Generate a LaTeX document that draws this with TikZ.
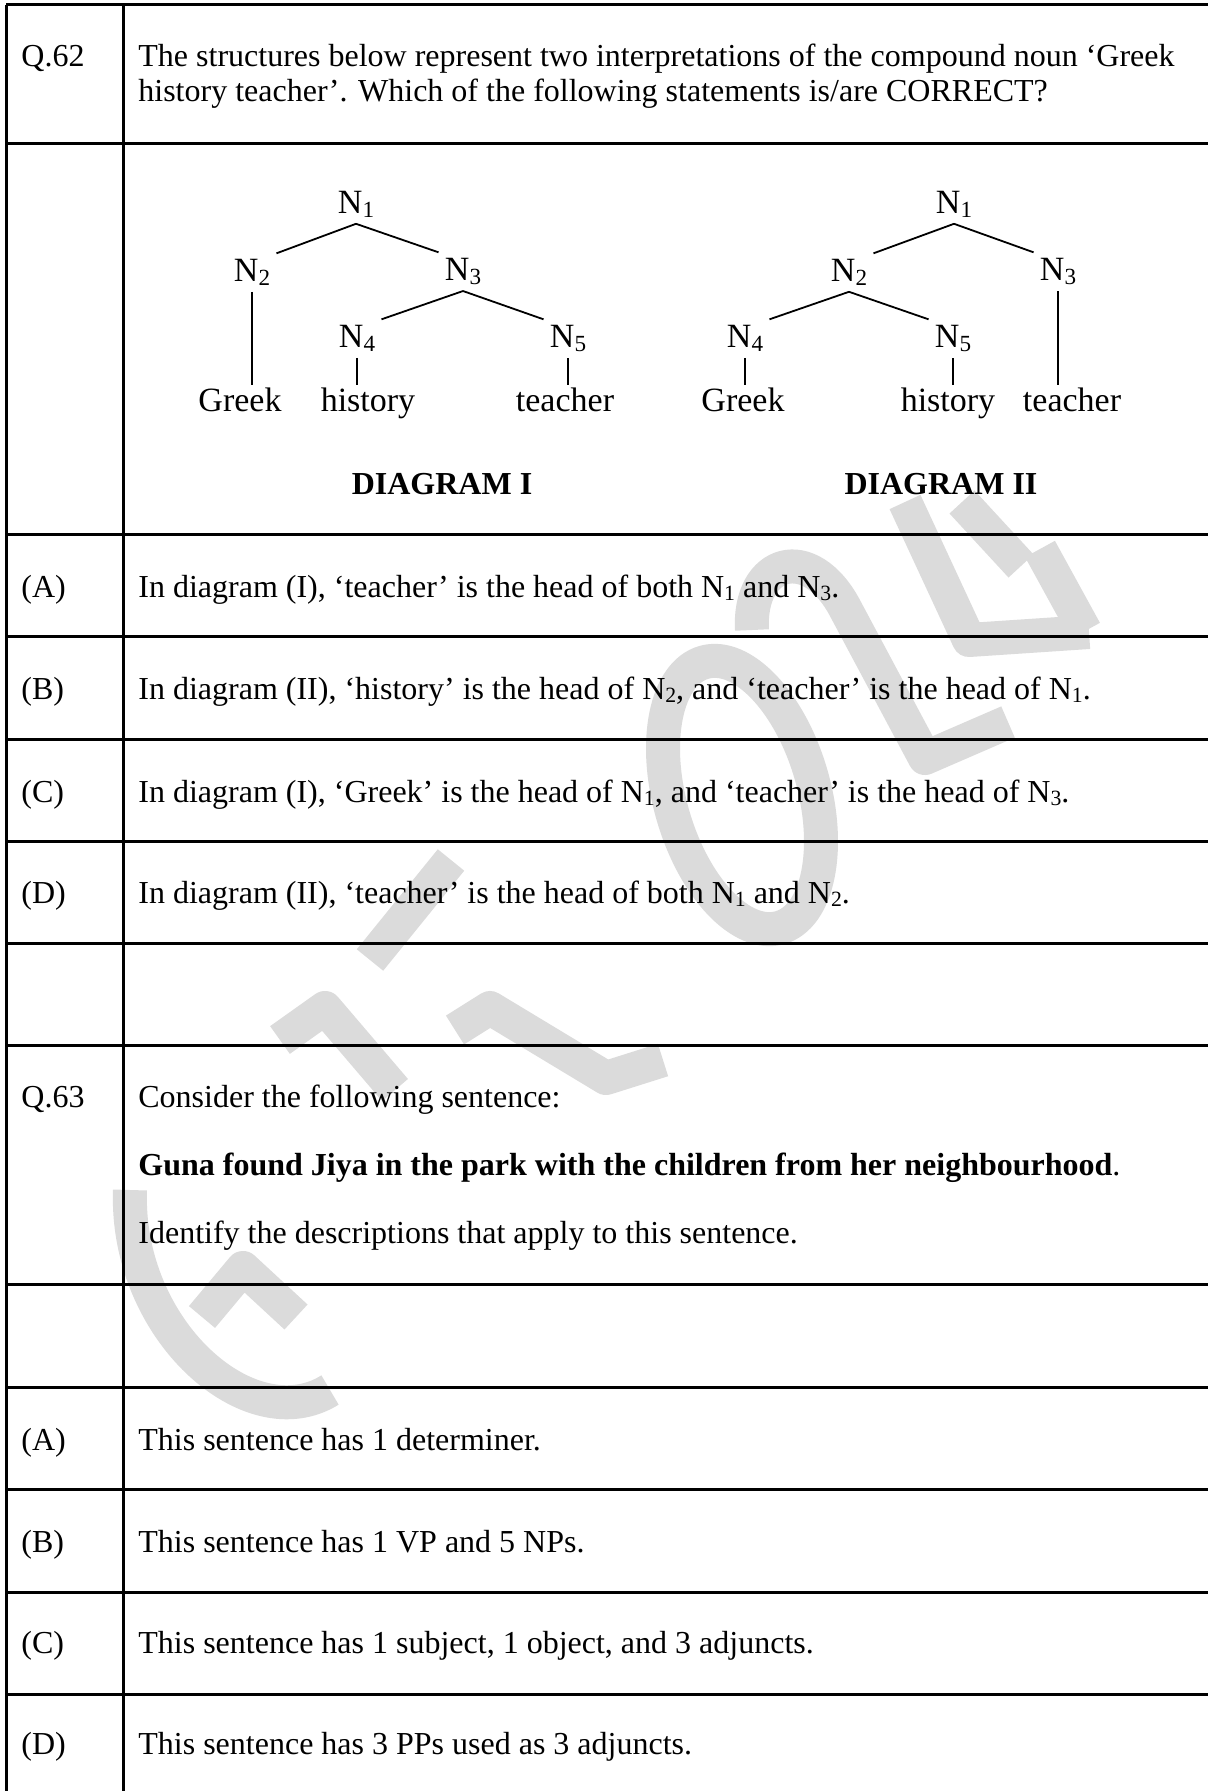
\documentclass[tikz,border=0pt]{standalone}
\usepackage{fontspec}
\setmainfont{Liberation Serif}
\usepackage{graphicx}
\usepackage{xcolor}
\usetikzlibrary{positioning, calc}
\definecolor{wmgray}{RGB}{219,219,219}
\newcommand{\nsub}[1]{\raisebox{-0.1em}{\scalebox{0.68}{#1}}}

\begin{document}
\begin{tikzpicture}[x=0.5pt, y=-0.5pt,
	txt/.style={anchor=base west, inner sep=0pt, font=\fontsize{16}{19}\selectfont},
	lbl/.style={anchor=base, inner sep=3pt, font=\fontsize{17}{20}\selectfont},
	word/.style={anchor=base, inner sep=1.5pt, font=\fontsize{17}{20}\selectfont},
	dgm/.style={anchor=base, inner sep=0pt, font=\fontsize{16}{19}\selectfont\bfseries},
	rule/.style={line width=1.5pt},
	branch/.style={line width=0.9pt}]

		\useasboundingbox (0,0) rectangle (1208,1791);
		\fill [white] (0,0) rectangle (1208,1791);

		\begin{scope}[wmgray, line width=17pt, line join=round]
			\draw (905,502) -- (969,640) -- (1089,632);
			\draw (962,502) -- (1021,566);
			\draw (1040,549) -- (1085,631);
			\draw (752,630) .. controls (748,560) and (810,540) .. (846,610) -- (925,758) -- (1008,722);
			\draw [rotate around={16:(742,795)}] (742,795) ellipse [x radius=72, y radius=138];
			\draw (451,860) -- (370,960);
			\draw (280,1040) -- (325,1008) -- (395,1090);
			\draw (455,1030) -- (490,1008) -- (606,1078) -- (663,1060);
			\draw (202,1317) -- (243,1268) -- (296,1317);
			\draw (130,1190) .. controls (125,1330) and (250,1440) .. (330,1390);
		\end{scope}

		\draw [rule] (6,5) -- (6,1791);
		\draw [rule] (123,5) -- (123,1791);
		\foreach \y in {5,144,534,636,739,841,943,1045,1284,1387,1489,1592,1694}
			\draw [rule] (6,\y) -- (1208,\y);

		\node [txt] (q62) at (21,67) {Q.62};
		\node [txt] (q62a) at (138,67) {The structures below represent two interpretations of the compound noun ‘Greek};
		\node [txt] (q62b) at (138,102) {history teacher’. Which of the following statements is/are CORRECT?};

		\node [lbl] (n1) at (356,214) {N\nsub{1}};
		\node [lbl] (n2) at (252,282) {N\nsub{2}};
		\node [lbl] (n3) at (463,281) {N\nsub{3}};
		\node [lbl] (n4) at (357,348) {N\nsub{4}};
		\node [lbl] (n5) at (568,348) {N\nsub{5}};
		\node [word] (w1) at (240,412) {Greek};
		\node [word] (w2) at (368,412) {history};
		\node [word] (w3) at (565,412) {teacher};
		\node [dgm] (d1) at (442,494) {DIAGRAM I};

		\draw [branch] (n1.south) -- (n2.north east);
		\draw [branch] (n1.south) -- (n3.north west);
		\draw [branch] (n3.south) -- (n4.north east);
		\draw [branch] (n3.south) -- (n5.north west);
		\draw [branch] (n2.south) -- (n2.south |- w1.north);
		\draw [branch] (n4.south) -- (n4.south |- w2.north);
		\draw [branch] (n5.south) -- (n5.south |- w3.north);

		\node [lbl] (m1) at (954,214) {N\nsub{1}};
		\node [lbl] (m2) at (849,282) {N\nsub{2}};
		\node [lbl] (m3) at (1058,281) {N\nsub{3}};
		\node [lbl] (m4) at (745,348) {N\nsub{4}};
		\node [lbl] (m5) at (953,348) {N\nsub{5}};
		\node [word] (v1) at (743,412) {Greek};
		\node [word] (v2) at (948,412) {history};
		\node [word] (v3) at (1072,412) {teacher};
		\node [dgm] (d2) at (941,494) {DIAGRAM II};

		\draw [branch] (m1.south) -- (m2.north east);
		\draw [branch] (m1.south) -- (m3.north west);
		\draw [branch] (m2.south) -- (m4.north east);
		\draw [branch] (m2.south) -- (m5.north west);
		\draw [branch] (m4.south) -- (m4.south |- v1.north);
		\draw [branch] (m5.south) -- (m5.south |- v2.north);
		\draw [branch] (m3.south) -- (m3.south |- v3.north);

		\node [txt] (pa) at (21,597) {(A)};
		\node [txt] (ta) at (138,597) {In diagram (I), ‘teacher’ is the head of both N\nsub{1} and N\nsub{3}.};
		\node [txt] (pb) at (21,699) {(B)};
		\node [txt] (tb) at (138,699) {In diagram (II), ‘history’ is the head of N\nsub{2}, and ‘teacher’ is the head of N\nsub{1}.};
		\node [txt] (pc) at (21,802) {(C)};
		\node [txt] (tc) at (138,802) {In diagram (I), ‘Greek’ is the head of N\nsub{1}, and ‘teacher’ is the head of N\nsub{3}.};
		\node [txt] (pd) at (21,903) {(D)};
		\node [txt] (td) at (138,903) {In diagram (II), ‘teacher’ is the head of both N\nsub{1} and N\nsub{2}.};

		\node [txt] (q63) at (21,1107) {Q.63};
		\node [txt] (q63a) at (138,1107) {Consider the following sentence:};
		\node [txt] (q63b) at (138,1175) {{\bfseries Guna found Jiya in the park with the children from her neighbourhood}.};
		\node [txt] (q63c) at (138,1243) {Identify the descriptions that apply to this sentence.};

		\node [txt] (sa) at (21,1450) {(A)};
		\node [txt] (ua) at (138,1450) {This sentence has 1 determiner.};
		\node [txt] (sb) at (21,1552) {(B)};
		\node [txt] (ub) at (138,1552) {This sentence has 1 VP and 5 NPs.};
		\node [txt] (sc) at (21,1653) {(C)};
		\node [txt] (uc) at (138,1653) {This sentence has 1 subject, 1 object, and 3 adjuncts.};
		\node [txt] (sd) at (21,1754) {(D)};
		\node [txt] (ud) at (138,1754) {This sentence has 3 PPs used as 3 adjuncts.};
	\end{tikzpicture}
\end{document}
